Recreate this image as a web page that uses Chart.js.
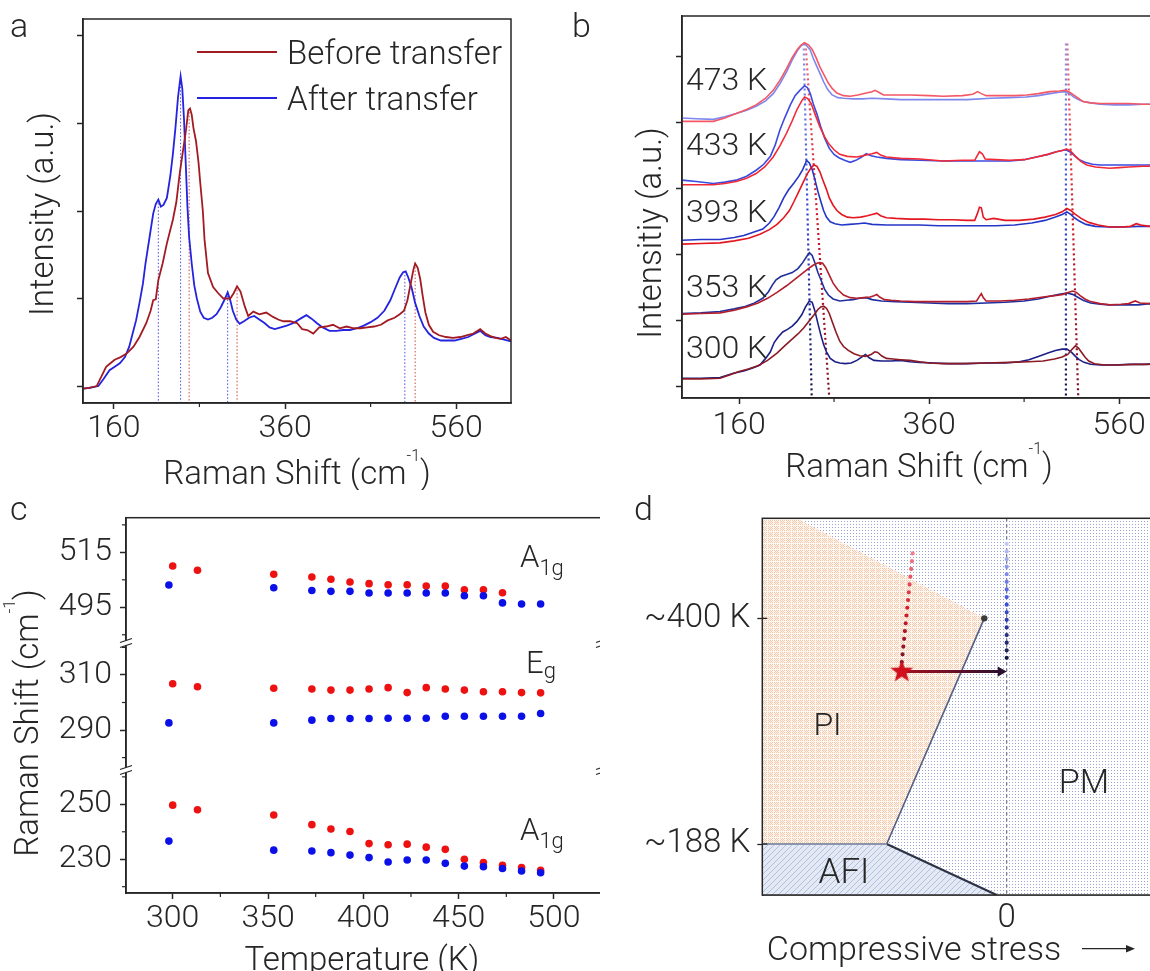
<!DOCTYPE html>
<html>
<head>
<meta charset="utf-8">
<script src="https://cdn.jsdelivr.net/npm/chart.js@4.4.1/dist/chart.umd.min.js"></script>
<style>
  html, body { margin: 0; padding: 0; background: #fff; overflow: hidden; }
  body { width: 1150px; height: 971px; position: relative; }
  canvas { position: absolute; }
</style>
</head>
<body>
<canvas id="chartA" width="560" height="490" style="left:0;top:0"></canvas>
<canvas id="chartB" width="610" height="490" style="left:560px;top:0"></canvas>
<canvas id="chartC" width="606" height="481" style="left:0;top:490px"></canvas>
<canvas id="chartD" width="570" height="481" style="left:600px;top:490px;background:#fff"></canvas>
<script>
// ---------- panel a: spectra before / after transfer (Raman shift, intensity a.u.) ----------
const beforeTransfer = [[124,-0.03],[131,-0.02],[140,0.0],[146,0.12],[151,0.22],[156,0.26],[161,0.30],[168,0.33],[175,0.37],[183,0.45],[190,0.56],[198,0.72],[203,0.86],[206,0.98],[209,0.99],[212,1.21],[217,1.40],[222,1.63],[229,1.90],[233,2.10],[237,2.43],[241,2.70],[244,2.90],[247,3.15],[249,3.17],[251,3.10],[253,2.95],[256,2.80],[259,2.55],[261,2.32],[264,2.00],[266,1.67],[270,1.29],[276,1.13],[282,1.06],[288,1.00],[296,1.00],[300,1.06],[304,1.14],[308,1.08],[313,0.91],[317,0.80],[323,0.85],[330,0.82],[338,0.84],[346,0.79],[352,0.76],[358,0.74],[366,0.74],[374,0.72],[380,0.65],[386,0.64],[393,0.60],[400,0.67],[408,0.68],[416,0.70],[424,0.66],[432,0.68],[440,0.66],[448,0.66],[456,0.67],[464,0.68],[472,0.70],[480,0.75],[488,0.78],[494,0.82],[499,0.86],[503,0.98],[507,1.18],[510,1.33],[512,1.40],[515,1.35],[518,1.22],[521,1.02],[524,0.84],[528,0.70],[533,0.62],[540,0.58],[548,0.56],[556,0.55],[565,0.56],[572,0.58],[580,0.60],[588,0.65],[594,0.60],[600,0.57],[606,0.55],[612,0.54],[618,0.56],[624,0.52]];
const afterTransfer = [[124,-0.03],[132,-0.02],[142,0.0],[148,0.08],[155,0.18],[161,0.22],[167,0.26],[173,0.33],[178,0.45],[182,0.60],[186,0.75],[190,0.95],[194,1.17],[197,1.40],[200,1.59],[203,1.78],[206,1.97],[209,2.08],[212,2.13],[215,2.05],[218,2.07],[222,2.15],[226,2.40],[229,2.65],[232,2.95],[235,3.30],[238,3.54],[240,3.40],[242,3.05],[244,2.55],[246,2.05],[248,1.70],[251,1.40],[254,1.15],[257,1.00],[261,0.85],[265,0.78],[270,0.76],[275,0.78],[280,0.82],[285,0.90],[289,0.98],[293,1.07],[296,0.98],[299,0.86],[303,0.76],[307,0.71],[312,0.74],[318,0.78],[324,0.80],[330,0.76],[336,0.72],[342,0.67],[348,0.65],[355,0.67],[362,0.69],[370,0.72],[378,0.77],[385,0.81],[391,0.77],[397,0.72],[404,0.67],[412,0.63],[420,0.63],[428,0.64],[436,0.64],[444,0.66],[452,0.69],[460,0.73],[468,0.78],[476,0.86],[483,0.98],[488,1.10],[494,1.24],[498,1.30],[501,1.31],[504,1.24],[508,1.12],[512,0.95],[517,0.80],[522,0.68],[528,0.60],[534,0.55],[542,0.52],[550,0.52],[558,0.52],[566,0.54],[574,0.56],[582,0.60],[588,0.63],[594,0.58],[600,0.56],[608,0.55],[616,0.53],[624,0.51]];
const peaksBefore = [[248, 3.17], [304, 1.14], [512, 1.40]];
const peaksAfter = [[212, 2.13], [238, 3.54], [293, 1.07], [500, 1.31]];
const shiftTicks = [160, 360, 560];
const shiftMinor = [260, 460];

// ---------- panel b: temperature series (offset intensity, a.u.) ----------
const tempLabels = ['300 K', '353 K', '393 K', '433 K', '473 K'];
const b300Blue = [[100,0.12],[120,0.12],[140,0.13],[155,0.20],[165,0.23],[175,0.28],[182,0.32],[188,0.42],[193,0.52],[197,0.66],[201,0.74],[206,0.82],[211,0.86],[216,0.91],[221,0.98],[226,1.08],[230,1.20],[234,1.29],[237,1.27],[240,1.13],[243,0.95],[246,0.78],[249,0.63],[252,0.52],[256,0.42],[261,0.37],[266,0.35],[272,0.34],[278,0.35],[284,0.39],[289,0.44],[293,0.48],[297,0.43],[302,0.39],[310,0.38],[320,0.38],[330,0.39],[340,0.37],[350,0.36],[365,0.35],[380,0.34],[400,0.34],[420,0.35],[440,0.35],[455,0.37],[465,0.40],[475,0.45],[485,0.50],[493,0.54],[500,0.56],[505,0.56],[510,0.51],[514,0.45],[518,0.40],[523,0.36],[530,0.33],[540,0.32],[555,0.32],[570,0.33],[585,0.33],[603,0.34]];
const b300Red = [[100,0.11],[120,0.11],[140,0.12],[150,0.17],[160,0.22],[170,0.26],[180,0.31],[190,0.39],[200,0.50],[208,0.61],[215,0.70],[222,0.79],[228,0.88],[234,0.99],[239,1.08],[243,1.16],[246,1.20],[249,1.21],[252,1.18],[255,1.10],[258,0.98],[262,0.82],[266,0.68],[270,0.60],[275,0.54],[281,0.49],[287,0.46],[293,0.45],[299,0.48],[303,0.52],[306,0.51],[310,0.46],[315,0.42],[322,0.41],[330,0.40],[340,0.39],[350,0.37],[360,0.35],[375,0.34],[395,0.34],[420,0.35],[445,0.36],[465,0.37],[480,0.38],[492,0.41],[500,0.44],[506,0.48],[510,0.55],[514,0.61],[517,0.58],[520,0.52],[524,0.44],[528,0.38],[534,0.34],[545,0.32],[560,0.32],[575,0.33],[590,0.33],[603,0.34]];
const b353Blue = [[100,1.10],[120,1.11],[140,1.13],[155,1.17],[165,1.20],[175,1.25],[185,1.33],[191,1.43],[195,1.53],[199,1.61],[204,1.66],[210,1.69],[216,1.72],[222,1.78],[227,1.87],[231,1.96],[234,2.02],[237,1.98],[240,1.86],[243,1.72],[247,1.58],[250,1.47],[254,1.38],[259,1.32],[266,1.29],[273,1.30],[280,1.31],[287,1.33],[294,1.34],[300,1.31],[310,1.29],[325,1.28],[340,1.27],[360,1.26],[380,1.25],[400,1.25],[420,1.26],[440,1.27],[460,1.29],[475,1.32],[487,1.36],[497,1.39],[505,1.41],[511,1.39],[516,1.35],[522,1.30],[530,1.26],[540,1.24],[550,1.23],[565,1.23],[580,1.23],[592,1.25],[603,1.24]];
const b353Red = [[100,1.09],[120,1.10],[140,1.11],[155,1.15],[168,1.20],[180,1.26],[190,1.33],[200,1.42],[210,1.52],[219,1.62],[227,1.71],[233,1.78],[238,1.83],[242,1.86],[245,1.87],[248,1.86],[251,1.80],[255,1.68],[259,1.56],[264,1.46],[270,1.38],[277,1.34],[284,1.33],[291,1.34],[298,1.35],[302,1.37],[305,1.39],[308,1.35],[313,1.31],[320,1.30],[330,1.29],[345,1.28],[360,1.28],[380,1.28],[400,1.28],[410,1.29],[413,1.36],[415,1.40],[417,1.34],[420,1.29],[435,1.29],[450,1.30],[465,1.32],[480,1.35],[492,1.37],[501,1.39],[507,1.42],[511,1.44],[515,1.42],[519,1.37],[524,1.32],[530,1.28],[540,1.25],[550,1.23],[562,1.24],[570,1.25],[577,1.29],[582,1.26],[592,1.25],[603,1.24]];
const b393Blue = [[100,2.21],[120,2.22],[140,2.22],[155,2.25],[165,2.28],[175,2.33],[185,2.38],[192,2.47],[197,2.57],[202,2.70],[207,2.85],[212,2.97],[218,3.08],[223,3.18],[227,3.28],[230,3.38],[231,3.42],[234,3.38],[237,3.28],[240,3.12],[243,2.95],[246,2.80],[249,2.66],[252,2.56],[256,2.49],[261,2.46],[268,2.44],[276,2.45],[285,2.46],[292,2.47],[300,2.45],[315,2.44],[330,2.44],[350,2.44],[370,2.43],[390,2.43],[410,2.43],[430,2.43],[450,2.44],[468,2.47],[482,2.51],[493,2.56],[500,2.60],[505,2.64],[509,2.60],[513,2.55],[518,2.50],[525,2.45],[535,2.42],[550,2.41],[565,2.41],[580,2.42],[590,2.42],[603,2.43]];
const b393Red = [[100,2.15],[120,2.16],[140,2.17],[155,2.20],[170,2.24],[182,2.30],[192,2.37],[200,2.45],[207,2.55],[213,2.66],[218,2.80],[223,2.95],[228,3.10],[232,3.22],[236,3.31],[239,3.35],[242,3.33],[245,3.25],[248,3.13],[252,2.98],[255,2.85],[259,2.74],[263,2.66],[268,2.60],[274,2.56],[280,2.55],[288,2.56],[295,2.58],[300,2.60],[305,2.62],[309,2.58],[315,2.55],[325,2.54],[340,2.53],[355,2.53],[370,2.52],[385,2.52],[400,2.51],[408,2.51],[411,2.62],[413,2.71],[415,2.70],[417,2.56],[420,2.52],[428,2.54],[440,2.51],[455,2.51],[470,2.53],[482,2.56],[493,2.60],[500,2.64],[505,2.69],[509,2.66],[514,2.60],[520,2.54],[528,2.48],[538,2.44],[550,2.41],[562,2.41],[572,2.42],[578,2.46],[583,2.44],[592,2.42],[603,2.42]];
const b433Blue = [[100,3.12],[115,3.10],[133,3.07],[145,3.09],[157,3.12],[168,3.18],[178,3.27],[186,3.36],[193,3.48],[198,3.65],[203,3.88],[208,4.06],[214,4.26],[219,4.40],[224,4.48],[229,4.55],[232,4.52],[235,4.43],[238,4.28],[242,4.12],[246,3.93],[250,3.76],[255,3.60],[260,3.51],[265,3.46],[271,3.42],[277,3.39],[283,3.42],[289,3.47],[294,3.52],[299,3.49],[305,3.47],[315,3.45],[330,3.43],[350,3.42],[375,3.41],[400,3.41],[425,3.41],[445,3.41],[460,3.43],[473,3.47],[485,3.51],[494,3.55],[500,3.57],[504,3.58],[508,3.55],[513,3.49],[518,3.43],[524,3.39],[532,3.36],[540,3.35],[555,3.35],[570,3.35],[585,3.35],[603,3.35]];
const b433Red = [[100,3.05],[115,3.05],[133,3.05],[145,3.07],[157,3.10],[168,3.15],[178,3.22],[187,3.32],[196,3.47],[203,3.64],[210,3.83],[216,4.02],[221,4.19],[226,4.32],[229,4.38],[232,4.36],[236,4.28],[240,4.12],[245,3.93],[250,3.78],[254,3.68],[260,3.58],[266,3.51],[274,3.48],[284,3.47],[294,3.50],[300,3.52],[305,3.54],[309,3.50],[315,3.47],[330,3.45],[350,3.44],[375,3.41],[395,3.42],[408,3.42],[411,3.50],[413,3.55],[416,3.52],[419,3.44],[430,3.43],[445,3.42],[460,3.43],[473,3.47],[485,3.51],[494,3.55],[500,3.57],[505,3.59],[509,3.56],[514,3.48],[520,3.40],[526,3.35],[535,3.32],[550,3.30],[560,3.31],[570,3.32],[585,3.33],[603,3.33]];
const b473Blue = [[100,4.06],[115,4.05],[133,4.04],[145,4.08],[157,4.13],[168,4.18],[178,4.24],[188,4.32],[196,4.43],[203,4.58],[210,4.76],[216,4.94],[221,5.07],[225,5.15],[228,5.19],[231,5.16],[235,5.09],[238,4.97],[242,4.84],[246,4.71],[249,4.61],[253,4.50],[258,4.41],[264,4.37],[270,4.36],[280,4.35],[290,4.35],[300,4.36],[315,4.35],[330,4.34],[350,4.34],[375,4.34],[400,4.34],[425,4.36],[445,4.37],[462,4.38],[475,4.40],[487,4.43],[497,4.45],[503,4.46],[508,4.43],[512,4.38],[517,4.34],[522,4.31],[530,4.29],[540,4.27],[555,4.26],[570,4.26],[585,4.27],[603,4.27]];
const b473Red = [[100,4.01],[115,4.01],[133,4.01],[145,4.06],[157,4.13],[168,4.19],[178,4.26],[188,4.36],[196,4.48],[203,4.63],[210,4.81],[216,4.98],[221,5.09],[225,5.16],[229,5.20],[233,5.17],[237,5.10],[241,4.98],[245,4.84],[250,4.70],[254,4.59],[258,4.51],[263,4.44],[270,4.40],[277,4.39],[285,4.41],[294,4.44],[300,4.46],[303,4.48],[307,4.45],[312,4.41],[325,4.41],[340,4.41],[360,4.40],[375,4.39],[395,4.40],[406,4.42],[411,4.46],[415,4.43],[420,4.40],[435,4.40],[450,4.40],[463,4.41],[475,4.43],[487,4.46],[497,4.47],[503,4.48],[508,4.45],[512,4.41],[517,4.36],[522,4.31],[530,4.29],[540,4.28],[555,4.28],[570,4.28],[585,4.27],[603,4.27]];
const trackLowBlue = [[228, 5.19], [236.5, -0.18]];
const trackLowRed = [[230, 5.19], [255, -0.18]];
const trackHighBlue = [[504, 5.19], [504, -0.18]];
const trackHighRed = [[505.5, 5.19], [517, -0.18]];

// ---------- panel c: peak positions vs temperature ----------
const tempRed = [300, 313, 353, 373, 383, 393, 403, 413, 423, 433, 443, 453, 463, 473, 483, 493];
const tempBlue = [298, 353, 373, 383, 393, 403, 413, 423, 433, 443, 453, 463, 473, 483, 493];
const a1gHighRed = [510.0, 508.5, 507.0, 506.0, 505.2, 504.2, 503.6, 503.2, 503.2, 502.7, 502.7, 501.4, 501.4, 500.3, null, null];
const a1gHighBlue = [503.1, 502.1, 501.1, 500.8, 500.8, 500.2, 500.2, 500.2, 500.2, 500.2, 499.2, 499.2, 496.6, 496.2, 496.2];
const egRed = [306.8, 305.7, 305.2, 304.9, 304.5, 304.5, 304.9, 305.4, 303.6, 305.4, 304.9, 304.5, 303.9, 303.9, 303.6, 303.5];
const egBlue = [292.6, 292.6, 293.6, 294.2, 294.2, 294.2, 294.3, 294.3, 294.3, 295.0, 295.0, 295.0, 295.0, 295.0, 296.0];
const a1gLowRed = [249.7, 248.0, 246.1, 242.6, 241.0, 240.1, 235.7, 235.3, 235.5, 234.4, 233.6, 230.0, 228.8, 227.8, 227.0, 226.0];
const a1gLowBlue = [236.6, 233.3, 233.0, 232.4, 231.5, 230.6, 229.0, 229.7, 229.7, 228.5, 227.5, 227.3, 226.6, 225.7, 225.1];
const tempTicks = [300, 350, 400, 450, 500];
const tempMinor = [325, 375, 425, 475];

// ---------- panel d: schematic phase diagram (stress arb. units, temperature K) ----------
const pmBackdrop = [[-2.444, 494], [1.533, 494]];
const piUpper = [[-2.444, 494], [-2.10, 494], [-0.224, 400]];
const piLower = [[-2.444, 188], [-1.20, 188], [-0.224, 400]];
const afiUpper = [[-2.444, 188], [-1.20, 188], [-0.10, 140.1]];
const piPmLine = [[-0.224, 400], [-1.20, 188]];
const afiPmLine = [[-1.20, 188], [-0.10, 140.1]];
const afiPiLine = [[-2.444, 188], [-1.20, 188]];
const criticalPoint = [[-0.224, 400]];
const zeroStress = [[0, 494], [0, 140.1]];
const filmHeating = [[-0.94, 461], [-1.05, 358]];
const bulkHeating = [[0, 470], [0, 358]];
const strainShift = [[-1.05, 350], [-0.06, 350]];
const filmState = [[-1.05, 350]];
const transitionTicks = [188, 400];

// ---------- shared helpers ----------
const INK = '#262626';
const FAMILY = 'Roboto, "Open Sans", sans-serif';
Chart.defaults.font.family = FAMILY;
Chart.defaults.font.weight = '300';
Chart.defaults.color = INK;

const fontSpec = size => ({ family: FAMILY, size, weight: '300' });
const cssFont = size => `300 ${size}px ${FAMILY}`;
const RAMAN_TITLE = [{ text: 'Raman Shift (cm', size: 33 }, { text: '-1', size: 16, dy: -23 }, { text: ')', size: 33 }];

function drawRich(ctx, parts, x, y, align = 'left', rotate = false) {
  ctx.save();
  ctx.translate(x, y);
  if (rotate) ctx.rotate(-Math.PI / 2);
  ctx.textBaseline = 'alphabetic';
  ctx.textAlign = 'left';
  let w = 0;
  for (const p of parts) { ctx.font = cssFont(p.size); w += ctx.measureText(p.text).width; }
  let cx = align === 'center' ? -w / 2 : align === 'right' ? -w : 0;
  for (const p of parts) {
    ctx.font = cssFont(p.size);
    ctx.fillStyle = p.color || INK;
    ctx.fillText(p.text, cx, p.dy || 0);
    cx += ctx.measureText(p.text).width;
  }
  ctx.restore();
}

function zeroPad(s) { s.paddingLeft = s.paddingRight = s.paddingTop = s.paddingBottom = 0; }

function axisX(min, max, ticks, height, pad, extra = {}) {
  return Object.assign({
    type: 'linear', position: 'bottom', min, max,
    afterBuildTicks: s => { s.ticks = ticks.map(v => ({ value: v })); },
    afterFit: s => { s.height = height; zeroPad(s); },
    grid: { drawOnChartArea: false, tickLength: 6, color: INK, tickWidth: 1.5 },
    border: { color: INK, width: 1.5 },
    ticks: { font: fontSpec(32), color: INK, padding: pad, maxRotation: 0, autoSkip: false }
  }, extra);
}

function axisY(min, max, ticks, width, extra = {}) {
  return Object.assign({
    type: 'linear', position: 'left', min, max,
    afterBuildTicks: s => { s.ticks = ticks.map(v => ({ value: v })); },
    afterFit: s => { s.width = width; zeroPad(s); },
    grid: { drawOnChartArea: false, tickLength: 6, color: INK, tickWidth: 1.5 },
    border: { color: INK, width: 1.5 },
    ticks: { display: false }
  }, extra);
}

function lineSet(data, color, width, extra = {}) {
  return Object.assign({ data, showLine: true, borderColor: color, borderWidth: width, pointRadius: 0, fill: false, tension: 0 }, extra);
}

function baseOptions(padding, scales) {
  return {
    responsive: false, animation: false, devicePixelRatio: 1, events: [],
    layout: { padding },
    plugins: { legend: { display: false }, tooltip: { enabled: false } },
    scales
  };
}

const fade = (v0, v1, stops, axis = 'y') => context => {
  const chart = context.chart;
  if (!chart.chartArea) return stops[stops.length - 1];
  const s = chart.scales[axis];
  const p0 = s.getPixelForValue(v0), p1 = s.getPixelForValue(v1);
  const g = axis === 'y' ? chart.ctx.createLinearGradient(0, p0, 0, p1) : chart.ctx.createLinearGradient(p0, 0, p1, 0);
  stops.forEach((c, i) => g.addColorStop(i / (stops.length - 1), c));
  return g;
};

const frame = {
  id: 'frame',
  afterDatasetsDraw(chart) {
    const { ctx, chartArea: a } = chart;
    ctx.save();
    ctx.strokeStyle = INK;
    ctx.lineWidth = 1.5;
    ctx.strokeRect(a.left, a.top, a.right - a.left, a.bottom - a.top);
    ctx.restore();
  }
};

function minorTicks(specs) {
  return {
    id: 'minorTicks',
    afterDraw(chart) {
      const ctx = chart.ctx;
      ctx.save();
      ctx.strokeStyle = INK;
      ctx.lineWidth = 1.2;
      for (const { id, values, len } of specs) {
        const s = chart.scales[id];
        for (const v of values) {
          const p = s.getPixelForValue(v);
          ctx.beginPath();
          if (s.isHorizontal()) { ctx.moveTo(p, s.top); ctx.lineTo(p, s.top + len); }
          else { ctx.moveTo(s.right, p); ctx.lineTo(s.right - len, p); }
          ctx.stroke();
        }
      }
      ctx.restore();
    }
  };
}

// ---------- panel a ----------
const RED_A = '#a31b22', BLUE_A = '#2323e0';
const yMinA = -0.194, yMaxA = 4.194;
new Chart(document.getElementById('chartA'), {
  type: 'scatter',
  data: {
    datasets: [
      ...peaksAfter.map(p => lineSet([[p[0], p[1]], [p[0], yMinA]], '#4a4ae6', 1, { borderDash: [1.5, 2], order: 5 })),
      ...peaksBefore.map(p => lineSet([[p[0], p[1]], [p[0], yMinA]], '#d04848', 1, { borderDash: [1.5, 2], order: 5 })),
      lineSet(afterTransfer, BLUE_A, 1.8, { order: 2 }),
      lineSet(beforeTransfer, RED_A, 1.8, { order: 1 })
    ]
  },
  options: baseOptions({ left: 0, top: 19, right: 49, bottom: 0 }, {
    x: axisX(124, 624, shiftTicks, 87, 1),
    y: axisY(yMinA, yMaxA, [0, 1, 2, 3, 4], 83)
  }),
  plugins: [frame, minorTicks([{ id: 'x', values: shiftMinor, len: 4 }]), {
    id: 'textA',
    afterDraw(chart) {
      const { ctx, chartArea: a } = chart;
      drawRich(ctx, [{ text: 'a', size: 34 }], 10, 37);
      [['Before transfer', RED_A, 52], ['After transfer', BLUE_A, 98]].forEach(([label, color, y]) => {
        ctx.save();
        ctx.strokeStyle = color;
        ctx.lineWidth = 1.8;
        ctx.beginPath(); ctx.moveTo(197, y); ctx.lineTo(277, y); ctx.stroke();
        ctx.restore();
        drawRich(ctx, [{ text: label, size: 33 }], 287, y + 12);
      });
      drawRich(ctx, RAMAN_TITLE, (a.left + a.right) / 2, a.bottom + 81, 'center');
      drawRich(ctx, [{ text: 'Intensity (a.u.)', size: 33 }], 53, 214, 'center', true);
    }
  }]
});

// ---------- panel b ----------
const blueShades = ['#1d1f86', '#1f2f9e', '#2436c8', '#3c4ae0', '#7c88ee'];
const redShades = ['#8c1a24', '#b21e2c', '#e4161f', '#f22a36', '#f45864'];
const blueSeries = [b300Blue, b353Blue, b393Blue, b433Blue, b473Blue];
const redSeries = [b300Red, b353Red, b393Red, b433Red, b473Red];
const trackBlue = ['#8a96f0', '#3040d0', '#10124a'];
const trackRed = ['#f26a78', '#d01828', '#7a1020'];
new Chart(document.getElementById('chartB'), {
  type: 'scatter',
  data: {
    datasets: [
      lineSet(trackLowBlue, fade(5.19, -0.18, trackBlue), 2.2, { borderDash: [2, 3], order: 20 }),
      lineSet(trackLowRed, fade(5.19, -0.18, trackRed), 2.2, { borderDash: [2, 3], order: 20 }),
      lineSet(trackHighBlue, fade(5.19, -0.18, trackBlue), 2.2, { borderDash: [2, 3], order: 20 }),
      lineSet(trackHighRed, fade(5.19, -0.18, trackRed), 2.2, { borderDash: [2, 3], order: 20 }),
      ...blueSeries.map((d, i) => lineSet(d, blueShades[i], 1.6, { order: 12 - i })),
      ...redSeries.map((d, i) => lineSet(d, redShades[i], 1.6, { order: 6 - i }))
    ]
  },
  options: baseOptions({ left: 0, top: 16, right: 10, bottom: 0 }, {
    x: axisX(100, 603, shiftTicks, 92, 3),
    y: axisY(-0.18, 5.606, [0, 1, 2, 3, 4, 5], 122)
  }),
  plugins: [frame, minorTicks([{ id: 'x', values: shiftMinor, len: 4 }]), {
    id: 'textB',
    afterDraw(chart) {
      const { ctx, chartArea: a } = chart;
      drawRich(ctx, [{ text: 'b', size: 34 }], 12, 37);
      const baselines = [358, 296.5, 221.7, 155, 89.5];
      tempLabels.forEach((t, i) => drawRich(ctx, [{ text: t, size: 32 }], a.left + 4, baselines[i]));
      drawRich(ctx, RAMAN_TITLE, 359, a.bottom + 79, 'center');
      drawRich(ctx, [{ text: 'Intensitiy (a.u.)', size: 33 }], 101, 233, 'center', true);
    }
  }]
});

// ---------- panel c ----------
const RED_C = '#ee1111', BLUE_C = '#0b0fe8';
const pairUp = (xs, ys) => xs.map((x, i) => [x, ys[i]]).filter(p => p[1] !== null);
function dots(data, color, axis) {
  return { data, yAxisID: axis, backgroundColor: color, borderWidth: 0, pointRadius: 3.8, showLine: false };
}
function axisSeg(min, max, ticks, weight) {
  return axisY(min, max, ticks, 126, {
    stack: 'shift', stackWeight: weight, offset: false,
    ticks: { display: true, font: fontSpec(32), color: INK, padding: 8 }
  });
}
new Chart(document.getElementById('chartC'), {
  type: 'scatter',
  data: {
    datasets: [
      dots(pairUp(tempBlue, a1gHighBlue), BLUE_C, 'yTop'),
      dots(pairUp(tempRed, a1gHighRed), RED_C, 'yTop'),
      dots(pairUp(tempBlue, egBlue), BLUE_C, 'yMid'),
      dots(pairUp(tempRed, egRed), RED_C, 'yMid'),
      dots(pairUp(tempBlue, a1gLowBlue), BLUE_C, 'yBot'),
      dots(pairUp(tempRed, a1gLowRed), RED_C, 'yBot')
    ]
  },
  // stacked left scales are laid out last-defined on top, so the bottom segment is listed first
  options: baseOptions({ left: 0, top: 27.7, right: 3, bottom: 0 }, {
    x: axisX(275.5, 525.2, tempTicks, 78, 1),
    yBot: axisSeg(217.7, 262.5, [230, 250], 123),
    yMid: axisSeg(275.5, 321.6, [290, 310], 127),
    yTop: axisSeg(482.0, 527.6, [495, 515], 125.3)
  }),
  plugins: [frame, minorTicks([
    { id: 'x', values: tempMinor, len: 4 },
    { id: 'yTop', values: [485, 505, 525], len: 4 },
    { id: 'yMid', values: [280, 300, 320], len: 4 },
    { id: 'yBot', values: [220, 240, 260], len: 4 }
  ]), {
    id: 'textC',
    afterDraw(chart) {
      const { ctx, chartArea: a } = chart;
      const segs = [chart.scales.yTop, chart.scales.yMid, chart.scales.yBot].sort((p, q) => p.top - q.top);
      const breaks = [segs[0].bottom, segs[1].bottom];
      for (const y of breaks) {
        for (const x of [a.left, a.right]) {
          ctx.save();
          ctx.fillStyle = '#fff';
          ctx.fillRect(x - 7, y - 2.5, 14, 5);
          ctx.strokeStyle = INK;
          ctx.lineWidth = 1.3;
          for (const d of [-2.5, 2.5]) {
            ctx.beginPath(); ctx.moveTo(x - 6, y + d + 2); ctx.lineTo(x + 6, y + d - 2); ctx.stroke();
          }
          ctx.restore();
        }
      }
      drawRich(ctx, [{ text: 'c', size: 34 }], 10, 30);
      drawRich(ctx, [{ text: 'A', size: 31 }, { text: '1g', size: 22, dy: 8 }], 520, 77);
      drawRich(ctx, [{ text: 'E', size: 31 }, { text: 'g', size: 22, dy: 5 }], 526, 183);
      drawRich(ctx, [{ text: 'A', size: 31 }, { text: '1g', size: 22, dy: 8 }], 520, 350);
      drawRich(ctx, [{ text: 'Temperature (K)', size: 33 }], 362, 480, 'center');
      drawRich(ctx, RAMAN_TITLE, 38, 233, 'center', true);
    }
  }]
});

// ---------- panel d ----------
const canvasD = document.getElementById('chartD');
const ctxD = canvasD.getContext('2d');
function makePattern(w, h, paint) {
  const tile = document.createElement('canvas');
  tile.width = w; tile.height = h;
  paint(tile.getContext('2d'));
  return ctxD.createPattern(tile, 'repeat');
}
const patPM = makePattern(3, 3, g => {
  g.fillStyle = '#ffffff'; g.fillRect(0, 0, 3, 3);
  g.fillStyle = '#98a4d4'; g.fillRect(1, 1, 1, 1);
});
const patPI = makePattern(6, 6, g => {
  g.fillStyle = '#fdf6f1'; g.fillRect(0, 0, 6, 6);
  g.fillStyle = '#f5c8a9';
  for (let i = 0; i < 5; i++) for (let j = 0; j < 5; j++) if ((i + j) % 2 === 0) g.fillRect(i, j, 1, 1);
});
const patAFI = makePattern(6, 6, g => {
  g.fillStyle = '#e3e9f5'; g.fillRect(0, 0, 6, 6);
  g.fillStyle = '#b3bfdb';
  for (let i = 0; i < 6; i++) for (let j = 0; j < 6; j++) if ((i + j) % 6 === 0) g.fillRect(i, j, 1, 1);
});
function starImage(r, color) {
  const c = document.createElement('canvas');
  c.width = c.height = 2 * r + 2;
  const g = c.getContext('2d');
  g.translate(r + 1, r + 1);
  g.beginPath();
  for (let i = 0; i < 10; i++) {
    const rad = i % 2 ? r * 0.42 : r;
    const ang = -Math.PI / 2 + i * Math.PI / 5;
    g.lineTo(rad * Math.cos(ang), rad * Math.sin(ang));
  }
  g.closePath();
  g.fillStyle = color;
  g.fill();
  return c;
}
const regionFill = (data, pattern, fill, order) =>
  lineSet(data, 'rgba(0,0,0,0)', 0, { fill, backgroundColor: pattern, order });

new Chart(canvasD, {
  type: 'scatter',
  data: {
    datasets: [
      regionFill(pmBackdrop, patPM, 'start', 30),
      regionFill(piUpper, patPI, '+1', 25),
      regionFill(piLower, 'rgba(0,0,0,0)', false, 25),
      regionFill(afiUpper, patAFI, 'start', 25),
      lineSet(zeroStress, '#6b7080', 1.2, { borderDash: [3, 3], order: 15 }),
      lineSet(afiPiLine, '#8b94ab', 2.2, { order: 12 }),
      lineSet(piPmLine, '#4f5f86', 1.6, { order: 12 }),
      lineSet(afiPmLine, '#2d3445', 2.2, { order: 12 }),
      { data: criticalPoint, backgroundColor: '#3a3a3a', borderWidth: 0, pointRadius: 3.2, order: 10 },
      lineSet(filmHeating, fade(461, 358, ['#f2808c', '#d81c2c', '#741226']), 4.2, { borderDash: [0, 7.8], borderCapStyle: 'round', order: 8 }),
      lineSet(bulkHeating, fade(470, 358, ['#c4caf6', '#3c4ee0', '#121634']), 4.2, { borderDash: [0, 7.6], borderCapStyle: 'round', order: 8 }),
      lineSet(strainShift, fade(-1.05, -0.06, ['#a8101e', '#2c1030'], 'x'), 3, {
        order: 6, pointRadius: [0, 6], pointStyle: 'triangle', pointRotation: 90,
        pointBackgroundColor: '#2c1030', pointBorderWidth: 0
      }),
      { data: filmState, pointStyle: starImage(12, '#d0101c'), order: 4 }
    ]
  },
  options: baseOptions({ left: 0, top: 28.3, right: 10, bottom: 0 }, {
    x: axisX(-2.444, 1.533, [0], 76, 4, {
      grid: { drawOnChartArea: false, drawTicks: false, color: INK },
      ticks: { font: fontSpec(33), color: INK, padding: 4, maxRotation: 0, autoSkip: false }
    }),
    y: axisY(140.1, 494, transitionTicks, 162.3, {
      grid: { drawOnChartArea: false, tickLength: 5, color: INK, tickWidth: 1.3 },
      ticks: { display: true, font: fontSpec(33), color: INK, padding: 7, callback: v => '~' + v + ' K' }
    })
  }),
  plugins: [frame, {
    id: 'textD',
    afterDraw(chart) {
      const { ctx, chartArea: a, scales: { x, y } } = chart;
      ctx.save();
      ctx.strokeStyle = INK;
      ctx.lineWidth = 1.3;
      for (const t of transitionTicks) {
        const p = y.getPixelForValue(t);
        ctx.beginPath(); ctx.moveTo(a.left, p); ctx.lineTo(a.left + 5, p); ctx.stroke();
      }
      ctx.restore();
      drawRich(ctx, [{ text: 'PI', size: 32 }], x.getPixelForValue(-1.792), y.getPixelForValue(290.4), 'center');
      drawRich(ctx, [{ text: 'PM', size: 34 }], x.getPixelForValue(0.773), y.getPixelForValue(235.6), 'center');
      drawRich(ctx, [{ text: 'AFI', size: 35 }], x.getPixelForValue(-1.627), y.getPixelForValue(151.1), 'center');
      drawRich(ctx, [{ text: 'd', size: 34 }], 34, 30);
      drawRich(ctx, [{ text: 'Compressive stress', size: 34 }], 314, 470, 'center');
      ctx.save();
      ctx.strokeStyle = INK;
      ctx.fillStyle = INK;
      ctx.lineWidth = 1.3;
      ctx.beginPath(); ctx.moveTo(482, 458.7); ctx.lineTo(528, 458.7); ctx.stroke();
      ctx.beginPath(); ctx.moveTo(535, 458.7); ctx.lineTo(526, 455); ctx.lineTo(526, 462.4); ctx.closePath(); ctx.fill();
      ctx.restore();
    }
  }]
});
</script>
</body>
</html>
